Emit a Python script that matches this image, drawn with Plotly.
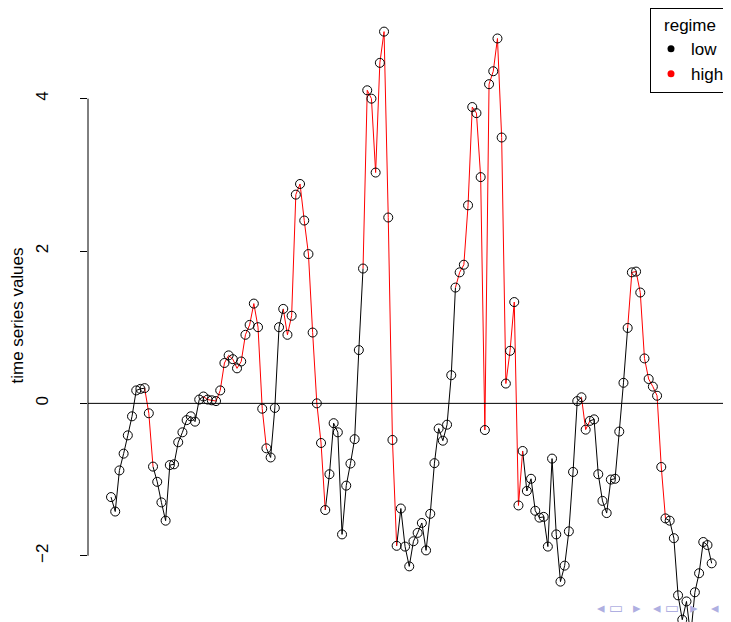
import plotly.graph_objects as go

# ---- data ----
values = [
    -1.23, -1.42, -0.88, -0.66, -0.42, -0.17, 0.17, 0.19, 0.20, -0.13,
    -0.83, -1.03, -1.30, -1.54, -0.81, -0.80, -0.51, -0.38, -0.22, -0.17,
    -0.24, 0.05, 0.09, 0.05, 0.04, 0.03, 0.17, 0.53, 0.63, 0.58,
    0.46, 0.55, 0.90, 1.03, 1.31, 1.00, -0.07, -0.59, -0.71, -0.06,
    1.00, 1.24, 0.90, 1.15, 2.74, 2.88, 2.40, 1.96, 0.93, 0.00,
    -0.52, -1.40, -0.93, -0.26, -0.38, -1.72, -1.08, -0.79, -0.47, 0.70,
    1.77, 4.11, 4.00, 3.03, 4.47, 4.88, 2.44, -0.48, -1.87, -1.38,
    -1.88, -2.14, -1.81, -1.70, -1.57, -1.93, -1.45, -0.785, -0.33, -0.49,
    -0.28, 0.37, 1.52, 1.72, 1.82, 2.60, 3.89, 3.81, 2.97, -0.35,
    4.19, 4.36, 4.79, 3.49, 0.26, 0.69, 1.33, -1.34, -0.625, -1.15,
    -0.99, -1.41, -1.50, -1.49, -1.88, -0.725, -1.72, -2.34, -2.13, -1.68,
    -0.90, 0.03, 0.08, -0.345, -0.23, -0.21, -0.93, -1.28, -1.44, -1.00,
    -0.99, -0.37, 0.27, 0.99, 1.72, 1.73, 1.455, 0.59, 0.32, 0.22,
    0.10, -0.835, -1.51, -1.54, -1.77, -2.52, -2.84, -2.60, -3.05, -2.48,
    -2.23, -1.82, -1.86, -2.10,
]
time_index = list(range(1, len(values) + 1))

# regime of each point (1 = high); segment (t-1 -> t) is coloured by regime at t
high_runs = [(10, 11), (24, 38), (43, 52), (62, 69), (84, 99), (114, 115), (125, 133)]
regime = [0] * len(values)
for a, b in high_runs:
    for t in range(a, b + 1):
        regime[t - 1] = 1

regime_names = ["low", "high"]
regime_colors = ["black", "red"]
y_ticks = [-2, 0, 2, 4]
y_title = "time series values"

# ---- build figure ----
fig = go.Figure()

for r in (0, 1):
    xs, ys = [], []
    for i in range(1, len(values)):
        if regime[i] == r:
            xs += [time_index[i - 1], time_index[i], None]
            ys += [values[i - 1], values[i], None]
    fig.add_trace(go.Scatter(x=xs, y=ys, mode="lines",
                             line=dict(color=regime_colors[r], width=1),
                             showlegend=False, hoverinfo="skip"))

fig.add_trace(go.Scatter(x=time_index, y=values, mode="markers",
                         marker=dict(symbol="circle-open", size=9, color="black",
                                     line=dict(width=1, color="black")),
                         showlegend=False))

for r in (0, 1):
    fig.add_trace(go.Scatter(x=[None], y=[None], mode="markers", name=regime_names[r],
                             marker=dict(symbol="circle", size=7, color=regime_colors[r])))

W, H = 723, 614          # page body has an 8px margin inside the 731x622 window
L = 80
PW = W - L
n = len(values)
fig.update_xaxes(range=[-4.48, n + 4.6], visible=False, showgrid=False, zeroline=False)
fig.update_yaxes(range=[-2.870, 5.177], tickvals=y_ticks,
                 ticktext=[("\u2212%d" % -v) if v < 0 else str(v) for v in y_ticks],
                 ticks="outside", ticklen=7, tickwidth=1, tickcolor="black",
                 tickangle=-90, ticklabelstandoff=25,
                 showgrid=False, zeroline=False, showline=False,
                 tickfont=dict(size=17, color="black"),
                 title=dict(text=y_title, font=dict(size=17, color="black"), standoff=6))

# y axis line between the extreme ticks, and horizontal zero line
fig.add_shape(type="line", xref="paper", yref="y", x0=0, x1=0, y0=min(y_ticks), y1=max(y_ticks),
              line=dict(color="black", width=1))
fig.add_shape(type="line", xref="paper", yref="y", x0=0, x1=1, y0=0, y1=0,
              line=dict(color="black", width=1))

# beamer navigation symbols (part of the reference slide)
nav = [(607, "\u25c2"), (625, "\u25ad"), (643, "\u25b8"), (663, "\u25c2"),
       (681, "\u25ad"), (700, "\u25b8"), (721, "\u25c2")]
for px, ch in nav:
    fig.add_annotation(x=(px - 8 - L) / PW, y=1 - (619 - 8) / H, xref="paper", yref="paper",
                       text=ch, showarrow=False,
                       font=dict(size=15, color="rgb(175,175,225)", family="DejaVu Sans"))

fig.update_layout(
    width=W, height=H,
    margin=dict(l=L, r=0, t=0, b=0),
    paper_bgcolor="white", plot_bgcolor="white",
    font=dict(family="Liberation Sans, Arial, Helvetica, sans-serif", size=17, color="black"),
    legend=dict(x=(650 - 8 - L) / PW, y=1 + 1 / H, xanchor="left", yanchor="top",
                bordercolor="black", borderwidth=1, bgcolor="white",
                title=dict(text="regime", side="top center", font=dict(size=17)),
                font=dict(size=17), itemwidth=30, tracegroupgap=0),
)

fig.write_html("out.html")
